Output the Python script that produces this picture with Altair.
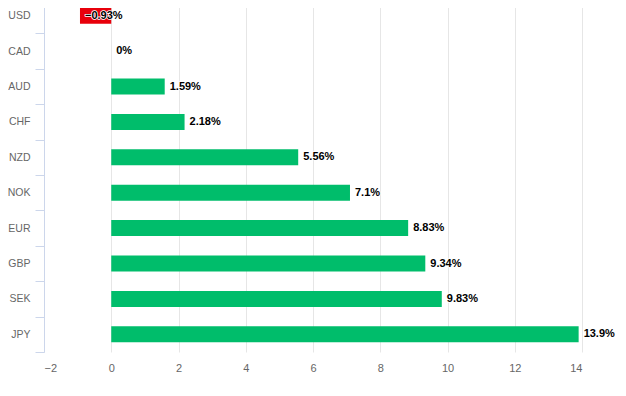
import altair as alt
import pandas as pd

currencies = ["USD", "CAD", "AUD", "CHF", "NZD", "NOK", "EUR", "GBP", "SEK", "JPY"]
values = [-0.93, 0, 1.59, 2.18, 5.56, 7.1, 8.83, 9.34, 9.83, 13.9]
labels = ["\u22120.93%", "0%", "1.59%", "2.18%", "5.56%", "7.1%", "8.83%", "9.34%", "9.83%", "13.9%"]
x_ticks = [-2, 0, 2, 4, 6, 8, 10, 12, 14]

df = pd.DataFrame({"currency": currencies, "value": values, "label": labels})

FONT = "Liberation Sans"

y = alt.Y(
    "currency:N",
    sort=currencies,
    title=None,
    scale=alt.Scale(paddingInner=0, paddingOuter=0),
    axis=alt.Axis(
        tickBand="extent",
        domainColor="#ccd6eb",
        tickColor="#ccd6eb",
        tickSize=9,
        labelColor="#666666",
        labelFont=FONT,
        labelFontSize=10.5,
        labelPadding=5,
        grid=False,
    ),
)
x = alt.X(
    "value:Q",
    title=None,
    scale=alt.Scale(domain=[-2, 14], nice=False, zero=False),
    axis=alt.Axis(
        values=x_ticks,
        grid=True,
        gridColor="#e6e6e6",
        domain=False,
        ticks=False,
        labelColor="#666666",
        labelFont=FONT,
        labelFontSize=11,
        labelPadding=10,
    ),
)

bars = alt.Chart(df).mark_bar(height=16).encode(
    y=y,
    x=x,
    x2=alt.datum(0),
    color=alt.condition(alt.datum.value < 0, alt.value("#e8000b"), alt.value("#00bd6b")),
)

halo = alt.Chart(df).mark_text(
    align="left", baseline="middle", dx=5, font=FONT, fontSize=11, fontWeight="bold",
    stroke="white", strokeWidth=1.5, color="white", strokeJoin="round",
).encode(y=alt.Y("currency:N", sort=currencies), x="value:Q", text="label:N")

text = alt.Chart(df).mark_text(
    align="left", baseline="middle", dx=5, font=FONT, fontSize=11, fontWeight="bold", color="#000000",
).encode(y=alt.Y("currency:N", sort=currencies), x="value:Q", text="label:N")

chart = alt.layer(bars, halo, text).properties(
    width=538,
    height=354,
    autosize=alt.AutoSizeParams(type="none"),
    padding={"left": 36, "top": -10, "right": 36, "bottom": 40},
).configure_view(stroke=None)

chart.save("out.html", embed_options={"renderer": "svg", "actions": False})
